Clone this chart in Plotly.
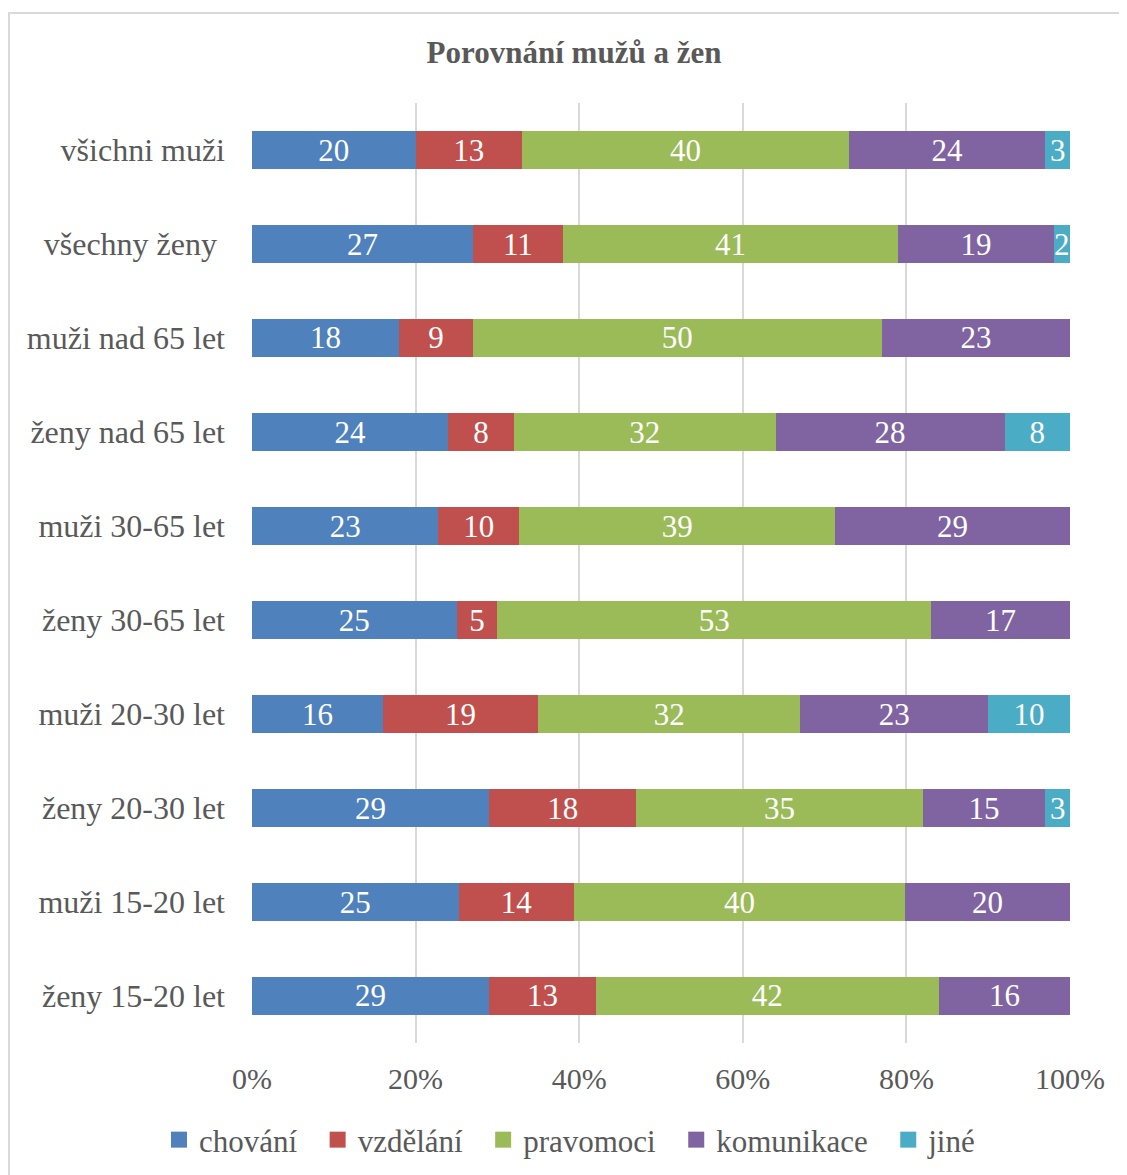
import plotly.graph_objects as go

categories = ["všichni muži", "všechny ženy\u00a0", "muži nad 65 let", "ženy nad 65 let",
              "muži 30-65 let", "ženy 30-65 let", "muži 20-30 let", "ženy 20-30 let",
              "muži 15-20 let", "ženy 15-20 let"]
chovani = [20, 27, 18, 24, 23, 25, 16, 29, 25, 29]
vzdelani = [13, 11, 9, 8, 10, 5, 19, 18, 14, 13]
pravomoci = [40, 41, 50, 32, 39, 53, 32, 35, 40, 42]
komunikace = [24, 19, 23, 28, 29, 17, 23, 15, 20, 16]
jine = [3, 2, None, 8, None, None, 10, 3, None, None]
tick_vals = [0, 20, 40, 60, 80, 100]
tick_text = ["0%", "20%", "40%", "60%", "80%", "100%"]

series = [
    ("chování", chovani, "#4F81BD"),
    ("vzdělání", vzdelani, "#C0504D"),
    ("pravomoci", pravomoci, "#9BBB59"),
    ("komunikace", komunikace, "#8064A2"),
    ("jiné", jine, "#4BACC6"),
]

FONT = "Liberation Serif"
GRAY = "#595959"

fig = go.Figure()
for name, vals, color in series:
    fig.add_trace(go.Bar(
        y=categories, x=vals, name=name, orientation="h",
        marker=dict(color=color, line=dict(width=0)),
        text=[("" if v is None else str(v)) for v in vals],
        textposition="inside", insidetextanchor="middle", constraintext="none",
        textangle=0,
        textfont=dict(family=FONT, size=31, color="white"),
        hoverinfo="skip", showlegend=False,
    ))
# legend entries with square markers
for i, (name, vals, color) in enumerate(series):
    pad = "" if i == len(series) - 1 else "\u00a0\u00a0"
    fig.add_trace(go.Scatter(
        x=[None], y=[None], mode="markers", name=name + pad,
        marker=dict(symbol="square", size=16, color=color),
        showlegend=True, hoverinfo="skip",
    ))

# page body has an 8px offset
W, H = 1119, 1167
ml, mr, mt, mb = 244, 57, 95, 132
pw, ph = W - ml - mr, H - mt - mb

fig.update_layout(
    width=W, height=H,
    barmode="stack", barnorm="percent", bargap=0.595,
    margin=dict(l=ml, r=mr, t=mt, b=mb, autoexpand=False),
    paper_bgcolor="white", plot_bgcolor="white",
    font=dict(family=FONT, size=31, color=GRAY),
    title=dict(text="<b>Porovnání mužů a žen</b>", x=566 / W, xref="container",
               y=1 - 44 / H, yref="container", yanchor="middle", xanchor="center",
               font=dict(family=FONT, size=31, color=GRAY)),
    xaxis=dict(range=[0, 100], tickvals=tick_vals, ticktext=tick_text,
               showgrid=True, gridcolor="#D9D9D9", gridwidth=2, zeroline=False,
               showline=False, ticks="", ticklabelstandoff=15,
               tickfont=dict(family=FONT, size=30, color=GRAY), fixedrange=True),
    yaxis=dict(categoryorder="array", categoryarray=categories, autorange="reversed",
               showgrid=False, zeroline=False, showline=False, ticks="",
               ticklabelstandoff=26,
               tickfont=dict(family=FONT, size=32, color=GRAY), fixedrange=True),
    legend=dict(orientation="h", xref="container", yref="container",
                x=562 / W, xanchor="center", y=1 - 1132 / H, yanchor="middle",
                font=dict(family=FONT, size=31, color=GRAY),
                itemwidth=30, tracegroupgap=0, traceorder="normal"),
    showlegend=True,
)

# outer chart border
fig.add_shape(type="rect", xref="paper", yref="paper",
              x0=(1 - ml) / pw, x1=(W + 20 - ml) / pw,
              y0=(H - mb - (H + 20)) / ph, y1=(H - mb - 5) / ph,
              line=dict(color="#D9D9D9", width=2), fillcolor="rgba(0,0,0,0)", layer="below")

fig.write_html("out.html")
